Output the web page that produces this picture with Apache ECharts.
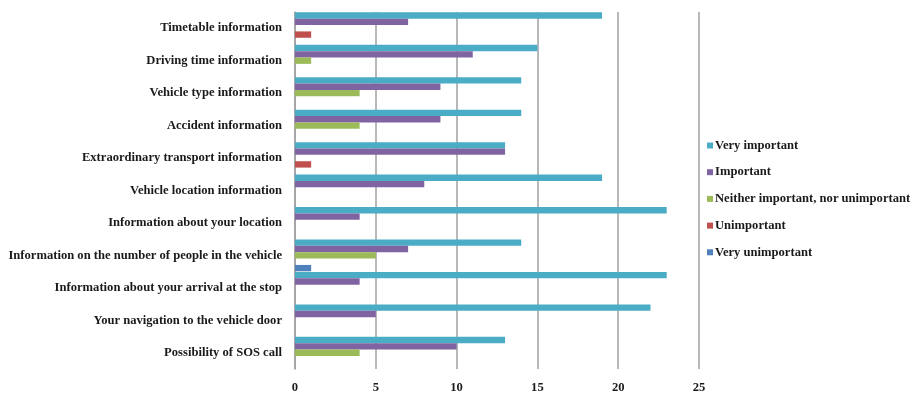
<!DOCTYPE html>
<html><head><meta charset="utf-8">
<script src="https://cdn.jsdelivr.net/npm/echarts@6/dist/echarts.min.js"></script>
<style>html,body{margin:0;padding:0;background:#fff}#c{width:911px;height:394px}</style>
</head><body><div id="c"></div>
<script>
const categories = [
  "Timetable information",
  "Driving time information",
  "Vehicle type information",
  "Accident information",
  "Extraordinary transport information",
  "Vehicle location information",
  "Information about your location",
  "Information on the number of people in the vehicle",
  "Information about your arrival at the stop",
  "Your navigation to the vehicle door",
  "Possibility of SOS call"
];
const seriesNames = ["Very important", "Important", "Neither important, nor unimportant", "Unimportant", "Very unimportant"];
const veryImportant   = [19, 15, 14, 14, 13, 19, 23, 14, 23, 22, 13];
const important       = [7, 11, 9, 9, 13, 8, 4, 7, 4, 5, 10];
const neither         = [0, 1, 4, 4, 0, 0, 0, 5, 0, 0, 4];
const unimportant     = [1, 0, 0, 0, 1, 0, 0, 0, 0, 0, 0];
const veryUnimportant = [0, 0, 0, 0, 0, 0, 0, 1, 0, 0, 0];
const xTicks = [0, 5, 10, 15, 20, 25];
const colors = ["#4BACC6", "#8064A2", "#9BBB59", "#C0504D", "#4F81BD"];

const allData = [veryImportant, important, neither, unimportant, veryUnimportant];
const font = "'Liberation Serif', 'Times New Roman', serif";
const chart = echarts.init(document.getElementById('c'), null, {renderer: 'canvas'});
chart.setOption({
  animation: false,
  grid: {left: 295, right: 212, top: 12, bottom: 24, containLabel: false},
  legend: {
    orient: 'vertical', left: 702, top: 134,
    itemWidth: 6, itemHeight: 6, itemGap: 13.7, icon: 'rect',
    data: seriesNames,
    textStyle: {fontFamily: font, fontWeight: 'bold', fontSize: 12.6, color: '#1a1a1a', padding: [0,0,0,-3]}
  },
  xAxis: {
    type: 'value', min: xTicks[0], max: xTicks[xTicks.length-1], interval: 5,
    axisLine: {show: false},
    axisTick: {show: false},
    splitLine: {show: true, lineStyle: {color: '#A0A0A0', width: 1.5}},
    axisLabel: {fontFamily: font, fontWeight: 'bold', fontSize: 12.6, color: '#1a1a1a', margin: 12}
  },
  yAxis: {
    type: 'category', data: categories, inverse: true,
    axisLine: {show: true, lineStyle: {color: '#A0A0A0', width: 1.5}},
    axisTick: {show: false},
    axisLabel: {fontFamily: font, fontWeight: 'bold', fontSize: 12.6, color: '#1a1a1a', margin: 13}
  },
  series: seriesNames.map((n, i) => ({
    name: n, type: 'bar', data: allData[i],
    barGap: '0%', barCategoryGap: '2%',
    itemStyle: {color: colors[i]}
  }))
});
</script></body></html>
